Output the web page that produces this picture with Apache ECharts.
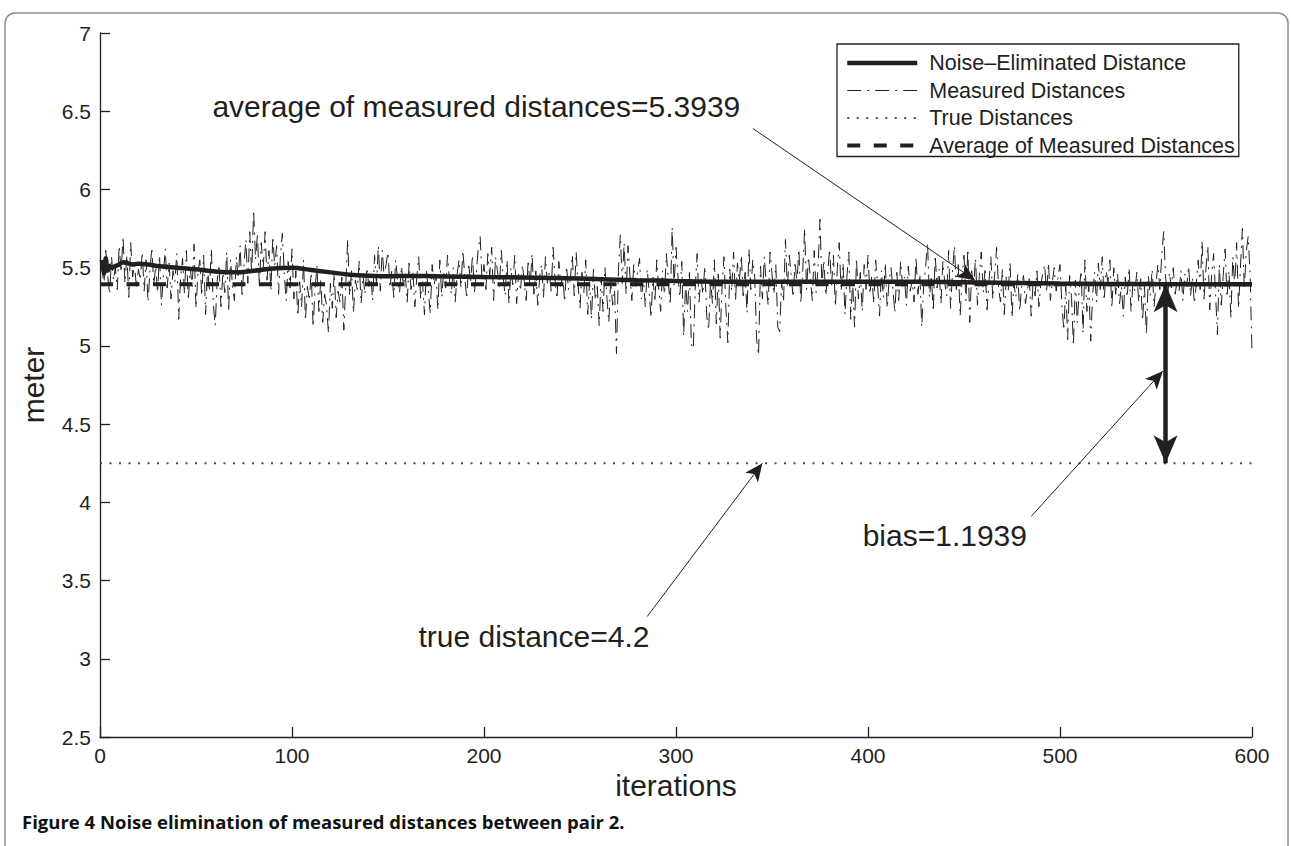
<!DOCTYPE html>
<html><head><meta charset="utf-8">
<script src="https://cdn.jsdelivr.net/npm/echarts@6/dist/echarts.min.js"></script>
<style>html,body{margin:0;padding:0;background:#fff}#c{width:1291px;height:846px}</style>
</head><body><div id="c"></div>
<script>
// ---------- DATA ----------
const seriesNames = ['Noise\u2013Eliminated Distance', 'Measured Distances', 'True Distances', 'Average of Measured Distances'];
const xTickLabels = ['0','100','200','300','400','500','600'];
const yTickLabels = ['2.5','3','3.5','4','4.5','5','5.5','6','6.5','7'];

// measured distance per iteration (1..600)
const measured = [
5.52,5.38,5.61,5.45,5.33,5.57,5.42,5.50,5.36,5.64,5.47,5.70,5.40,5.58,5.31,5.66,5.44,5.52,5.37,5.49,
5.42,5.60,5.35,5.55,5.28,5.47,5.63,5.39,5.51,5.34,5.58,5.26,5.45,5.62,5.37,5.53,5.30,5.48,5.41,5.59,
5.17,5.44,5.56,5.33,5.61,5.29,5.50,5.38,5.65,5.24,5.46,5.55,5.32,5.58,5.20,5.49,5.36,5.62,5.27,5.13,
5.41,5.52,5.25,5.47,5.34,5.60,5.22,5.55,5.39,5.29,5.57,5.43,5.64,5.31,5.52,5.68,5.40,5.73,5.46,5.87,
5.55,5.72,5.38,5.66,5.49,5.73,5.42,5.61,5.35,5.70,5.51,5.64,5.33,5.58,5.72,5.45,5.29,5.54,5.37,5.62,
5.30,5.48,5.19,5.41,5.25,5.55,5.16,5.38,5.29,5.47,5.12,5.36,5.51,5.22,5.43,5.15,5.33,5.26,5.08,5.40,
5.24,5.47,5.18,5.35,5.28,5.44,5.10,5.39,5.68,5.32,5.48,5.21,5.42,5.36,5.54,5.27,5.45,5.33,5.50,5.38,
5.46,5.29,5.58,5.40,5.64,5.35,5.61,5.44,5.52,5.60,5.37,5.48,5.31,5.55,5.42,5.34,5.51,5.39,5.46,5.28,
5.53,5.36,5.47,5.25,5.44,5.57,5.30,5.41,5.20,5.49,5.35,5.21,5.52,5.39,5.45,5.23,5.55,5.31,5.48,5.37,
5.58,5.42,5.33,5.50,5.28,5.46,5.55,5.37,5.61,5.44,5.30,5.53,5.40,5.58,5.34,5.47,5.62,5.70,5.41,5.52,
5.36,5.59,5.45,5.63,5.29,5.57,5.48,5.38,5.61,5.44,5.32,5.55,5.27,5.50,5.39,5.58,5.27,5.46,5.35,5.52,
5.41,5.29,5.55,5.37,5.59,5.33,5.48,5.26,5.44,5.52,5.31,5.57,5.40,5.47,5.35,5.63,5.42,5.30,5.54,5.38,
5.46,5.28,5.51,5.36,5.43,5.58,5.32,5.60,5.39,5.24,5.47,5.34,5.55,5.20,5.41,5.17,5.49,5.29,5.38,5.13,
5.44,5.22,5.50,5.31,5.15,5.42,5.26,5.36,4.95,5.48,5.71,5.40,5.66,5.33,5.64,5.45,5.29,5.52,5.38,5.47,
5.56,5.30,5.43,5.25,5.49,5.35,5.18,5.44,5.28,5.55,5.37,5.22,5.48,5.33,5.59,5.41,5.26,5.76,5.39,5.63,
5.45,5.31,5.54,5.06,5.40,5.22,5.47,5.01,4.98,5.36,5.59,5.28,5.44,5.33,5.51,5.19,5.10,5.42,5.27,5.55,
5.14,5.46,5.05,5.38,5.57,5.24,5.02,5.49,5.35,5.60,5.29,5.53,5.41,5.58,5.32,5.47,5.21,5.62,5.36,5.55,
5.44,5.04,4.94,5.51,5.30,5.57,5.39,5.26,5.60,5.46,5.33,5.52,5.12,5.09,5.41,5.28,5.68,5.37,5.58,5.45,
5.31,5.54,5.40,5.62,5.27,5.48,5.75,5.36,5.57,5.43,5.29,5.61,5.34,5.50,5.81,5.39,5.55,5.32,5.46,5.62,
5.38,5.58,5.25,5.49,5.66,5.35,5.53,5.20,5.44,5.60,5.17,5.41,5.12,5.56,5.30,5.47,5.22,5.52,5.36,5.58,
5.33,5.45,5.27,5.55,5.39,5.19,5.48,5.31,5.53,5.24,5.42,5.50,5.36,5.21,5.47,5.29,5.54,5.38,5.44,5.26,
5.51,5.35,5.42,5.28,5.57,5.33,5.46,5.12,5.39,5.50,5.66,5.31,5.45,5.22,5.58,5.37,5.49,5.27,5.54,5.40,
5.32,5.61,5.24,5.47,5.64,5.36,5.52,5.19,5.43,5.58,5.29,5.62,5.15,5.48,5.38,5.56,5.26,5.45,5.60,5.34,
5.50,5.23,5.41,5.57,5.30,5.46,5.63,5.37,5.28,5.49,5.20,5.44,5.35,5.53,5.18,5.40,5.31,5.46,5.22,5.38,
5.45,5.27,5.36,5.43,5.19,5.41,5.32,5.48,5.25,5.39,5.46,5.52,5.34,5.53,5.29,5.41,5.50,5.35,5.44,5.52,
5.26,5.10,5.38,5.04,5.45,5.31,5.00,5.42,5.15,5.36,5.48,5.08,5.55,5.22,5.39,5.03,5.33,5.47,5.28,5.53,
5.36,5.57,5.29,5.48,5.41,5.55,5.24,5.50,5.33,5.46,5.27,5.38,5.19,5.44,5.31,5.50,5.22,5.40,5.35,5.47,
5.28,5.43,5.16,5.38,5.07,5.45,5.32,5.49,5.25,5.40,5.52,5.36,5.58,5.73,5.44,5.30,5.47,5.37,5.50,5.33,
5.42,5.35,5.48,5.29,5.46,5.38,5.51,5.32,5.44,5.27,5.40,5.55,5.36,5.67,5.30,5.49,5.64,5.23,5.46,5.59,
5.34,5.07,5.52,5.26,5.45,5.62,5.31,5.48,5.18,5.57,5.39,5.66,5.24,5.51,5.75,5.36,5.60,5.70,5.46,4.96
];

// noise-eliminated (filtered) estimate, sampled iterations and values
const neIter  = [1,2,3,4,5,6,8,10,12,14,17,20,25,30,40,50,60,70,80,90,100,110,120,130,140,150,160,170,180,200,220,250,280,300,330,360,400,430,460,500,550,600];
const neValue = [5.55,5.46,5.56,5.48,5.51,5.50,5.51,5.52,5.535,5.53,5.52,5.525,5.52,5.51,5.50,5.49,5.476,5.47,5.48,5.495,5.50,5.485,5.47,5.455,5.448,5.445,5.447,5.446,5.444,5.44,5.437,5.43,5.42,5.415,5.41,5.41,5.41,5.41,5.405,5.398,5.395,5.394];

const trueDistance = 4.25;
const averageMeasured = 5.3939;

// annotations
const annTexts = ['average of measured distances=5.3939', 'true distance=4.2', 'bias=1.1939'];
const annX = [196, 226, 440];
const annY = [6.53, 3.14, 3.79];
// arrows: [x0, y0, x1, y1]
const arrowAvg  = [340, 6.39, 455.7, 5.42];
const arrowTrue = [285, 3.27, 345, 4.25];
const arrowBias = [485, 3.91, 553.6, 4.84];
const biasX = 555;

// ---------- CHART ----------
const iters = measured.map((_, i) => i + 1);
const measuredData = iters.map((x, i) => [x, measured[i]]);
const neData = neIter.map((x, i) => [x, neValue[i]]);
const ink = '#231f20';
const FONT = 'Liberation Sans';

const styles = {
  ne:   {color: ink, width: 4.5, type: 'solid'},
  meas: {color: ink, width: 1, type: [14, 6, 2, 6]},
  tru:  {color: '#4a4a4a', width: 2, type: [2, 7.5], cap: 'butt'},
  avg:  {color: ink, width: 4, type: [13, 13.5], cap: 'butt'}
};

const chart = echarts.init(document.getElementById('c'), null, {renderer: 'svg'});
chart.setOption({
  animation: false,
  backgroundColor: '#fff',
  grid: {left: 100, right: 39, top: 33, bottom: 109, containLabel: false},
  xAxis: {
    type: 'value', min: 0, max: 600, interval: 100,
    name: 'iterations', nameLocation: 'middle', nameGap: 32,
    nameTextStyle: {fontSize: 30, color: ink, fontFamily: FONT},
    axisLine: {lineStyle: {color: ink, width: 1.3}},
    axisTick: {inside: true, length: 10, lineStyle: {color: ink, width: 1.3}},
    axisLabel: {fontSize: 21, color: ink, fontFamily: FONT, margin: 8,
      formatter: v => xTickLabels[Math.round(v / 100)]},
    splitLine: {show: false}
  },
  yAxis: {
    type: 'value', min: 2.5, max: 7, interval: 0.5,
    name: 'meter', nameLocation: 'middle', nameGap: 52, nameRotate: 90,
    nameTextStyle: {fontSize: 30, color: ink, fontFamily: FONT},
    axisLine: {lineStyle: {color: ink, width: 1.3}},
    axisTick: {inside: true, length: 10, lineStyle: {color: ink, width: 1.3}},
    axisLabel: {fontSize: 21, color: ink, fontFamily: FONT, margin: 9,
      formatter: v => yTickLabels[Math.round((v - 2.5) / 0.5)]},
    splitLine: {show: false}
  },
  legend: {
    data: [
      {name: seriesNames[0], lineStyle: styles.ne},
      {name: seriesNames[1], lineStyle: styles.meas},
      {name: seriesNames[2], lineStyle: styles.tru},
      {name: seriesNames[3], lineStyle: styles.avg}
    ],
    orient: 'vertical', left: 837, top: 44,
    padding: [8, 4, 0, 8], itemGap: 5.5,
    itemWidth: 70, itemHeight: 14,
    borderColor: ink, borderWidth: 1.3,
    backgroundColor: '#fff',
    itemStyle: {opacity: 0, borderWidth: 0},
    textStyle: {fontSize: 21.5, color: ink, fontFamily: FONT, lineHeight: 22, padding: [0, 0, 0, 7]},
    selectedMode: false
  },
  series: [
    {
      name: seriesNames[1], type: 'line', data: measuredData, symbol: 'none', z: 2,
      lineStyle: styles.meas, itemStyle: {color: ink}
    },
    {
      name: seriesNames[2], type: 'line', data: [[0, trueDistance], [600, trueDistance]], symbol: 'none', z: 3,
      lineStyle: styles.tru, itemStyle: {color: '#4a4a4a'},
      markLine: {
        silent: true, animation: false,
        label: {show: false},
        symbol: ['none', 'arrow'],
        lineStyle: {color: ink, width: 1, type: 'solid'},
        data: [
          [{coord: [arrowAvg[0], arrowAvg[1]], symbol: 'none'},
           {coord: [arrowAvg[2], arrowAvg[3]], symbol: 'arrow', symbolSize: [12, 18]}],
          [{coord: [arrowTrue[0], arrowTrue[1]], symbol: 'none'},
           {coord: [arrowTrue[2], arrowTrue[3]], symbol: 'arrow', symbolSize: [12, 18]}],
          [{coord: [arrowBias[0], arrowBias[1]], symbol: 'none'},
           {coord: [arrowBias[2], arrowBias[3]], symbol: 'arrow', symbolSize: [12, 18]}],
          [{coord: [biasX, averageMeasured], symbol: 'arrow', symbolSize: [18, 28], lineStyle: {width: 4.5, color: ink, type: 'solid'}},
           {coord: [biasX, trueDistance], symbol: 'arrow', symbolSize: [18, 28], lineStyle: {width: 4.5, color: ink, type: 'solid'}}]
        ]
      },
      markPoint: {
        silent: true, animation: false,
        symbol: 'rect', symbolSize: 1,
        itemStyle: {color: 'rgba(0,0,0,0)'},
        label: {show: true, position: 'inside', color: ink, fontSize: 30, fontFamily: FONT, formatter: p => p.name},
        data: annTexts.map((t, i) => ({name: t, coord: [annX[i], annY[i]]}))
      }
    },
    {
      name: seriesNames[3], type: 'line', data: [[0, averageMeasured], [600, averageMeasured]], symbol: 'none', z: 4,
      lineStyle: styles.avg, itemStyle: {color: ink}
    },
    {
      name: seriesNames[0], type: 'line', data: neData, symbol: 'none', smooth: 0.3, z: 5,
      lineStyle: styles.ne, itemStyle: {color: ink}
    }
  ],
  graphic: [
    {type: 'rect', silent: true, z: -10, shape: {x: 5, y: 13, width: 1283, height: 880, r: 10},
     style: {fill: 'none', stroke: '#8e8e8e', lineWidth: 1.5}},
    {type: 'text', silent: true, left: 22, top: 812,
     style: {text: 'Figure 4 Noise elimination of measured distances between pair 2.', fill: '#111',
       font: 'bold 18.5px "Open Sans", sans-serif'}}
  ]
});
</script>
</body></html>
